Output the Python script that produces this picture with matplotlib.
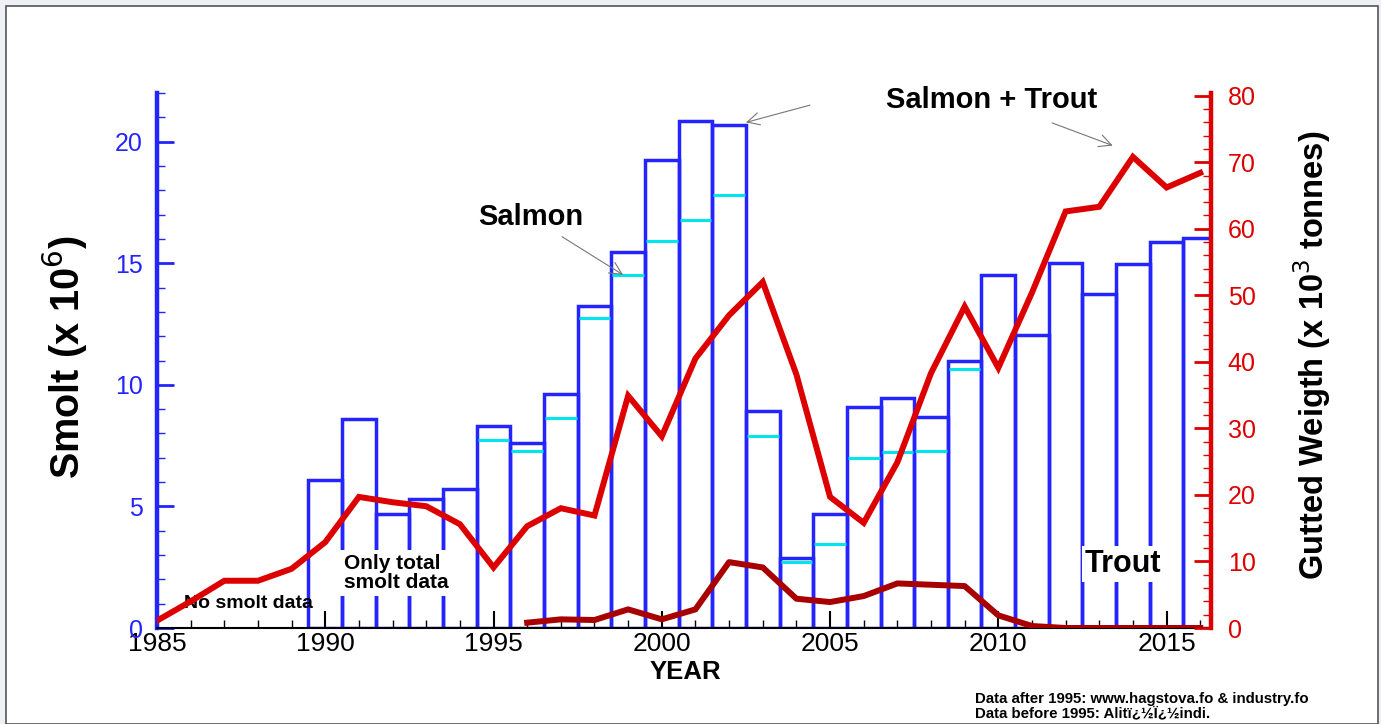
import numpy as np
import matplotlib.pyplot as plt
from matplotlib.patches import Rectangle

plt.rcParams['font.family'] = ['Liberation Sans', 'DejaVu Sans']

# smolt (x 10^6), total bars and salmon-only marks
bar_years = np.arange(1990, 2017)
smolt_total = [6.08, 8.60, 4.67, 5.30, 5.70, 8.32, 7.61, 9.62, 13.25, 15.45,
               19.23, 20.84, 20.69, 8.93, 2.87, 4.67, 9.10, 9.44, 8.69, 11.0,
               14.51, 12.03, 15.02, 13.73, 14.95, 15.86, 16.04]
salmon_years = np.arange(1995, 2010)
smolt_salmon = [7.75, 7.26, 8.63, 12.74, 14.52, 15.93, 16.76, 17.79, 7.91,
                2.70, 3.45, 7.00, 7.25, 7.29, 10.65]

# gutted weight (x 10^3 tonnes)
catch_years = np.arange(1985, 2017)
salmon_trout = [1.1, 4.0, 7.1, 7.1, 8.9, 12.9, 19.7, 18.9, 18.3, 15.6, 9.1,
                15.3, 18.0, 16.9, 34.9, 28.8, 40.5, 47.0, 52.0, 38.1, 19.7,
                15.8, 24.9, 38.3, 48.3, 39.1, 50.4, 62.6, 63.3, 70.8, 66.2, 68.4]
trout_years = np.arange(1996, 2017)
trout = [0.8, 1.3, 1.2, 2.8, 1.3, 2.8, 9.9, 9.1, 4.4, 3.9, 4.8, 6.7, 6.5, 6.3,
         1.9, 0.3, 0, 0, 0, 0, 0]

blue = '#2424ff'
red = '#dd0000'
arrow_style = dict(arrowstyle='->', color='#777777', lw=0.8, mutation_scale=22)

fig = plt.figure(figsize=(13.81, 7.24), dpi=100)
fig.patch.set_facecolor('#eef0f6')
fig.patches.append(Rectangle((6/1381, 0), 1372/1381, 1 - 6/724, transform=fig.transFigure,
                             facecolor='white', edgecolor='#555555', lw=1.2, zorder=-5))

ax = fig.add_axes([157/1381, 96/724, 1054/1381, 535/724])
ax.patch.set_alpha(0)

ax.bar(bar_years, smolt_total, width=1.0, fill=False, edgecolor=blue, linewidth=2.5, zorder=2)
ax.hlines(smolt_salmon, salmon_years - 0.47, salmon_years + 0.47, colors='#00e5ee', lw=2.2, zorder=3)

ax.set_xlim(1985, 2016.32)
ax.set_ylim(0, 22)
for s in ['top', 'right']:
    ax.spines[s].set_visible(False)
ax.spines['left'].set_color(blue)
ax.spines['left'].set_linewidth(3.2)
ax.spines['bottom'].set_linewidth(1.5)

ax.set_xticks(np.arange(1985, 2016, 5))
ax.set_xticks(np.arange(1985, 2017), minor=True)
ax.tick_params(axis='x', which='major', direction='in', length=12, width=1.5, labelsize=19, pad=3)
ax.tick_params(axis='x', which='minor', direction='in', length=6, width=1.0)
ax.set_yticks([0, 5, 10, 15, 20])
ax.set_yticks(np.arange(0, 23), minor=True)
ax.tick_params(axis='y', which='major', direction='in', length=12, width=2, color=blue,
               labelcolor=blue, labelsize=18, pad=10)
ax.tick_params(axis='y', which='minor', direction='in', length=6, width=1, color=blue)

ax.text(1985.8, 1.0, 'No smolt data', fontsize=14, fontweight='bold', va='center', zorder=5)
ax.text(1990.55, 2.25, 'Only total\nsmolt data', fontsize=15, fontweight='bold', va='center',
        linespacing=1.0, zorder=5,
        bbox=dict(facecolor='white', edgecolor='none', pad=3))

ax.annotate('Salmon', xy=(1998.85, smolt_salmon[4]), xytext=(1996.1, 16.9),
            fontsize=21, fontweight='bold', ha='center', va='center',
            arrowprops=dict(shrinkA=4, shrinkB=0, **arrow_style))
ax.annotate('', xy=(2002.5, smolt_total[12] + 0.1), xytext=(2004.4, 21.5),
            arrowprops=dict(shrinkA=0, shrinkB=0, **arrow_style))

ax2 = ax.twinx()
ax2.plot(catch_years, salmon_trout, color=red, lw=4.3, solid_joinstyle='miter', zorder=4)
ax2.plot(trout_years, trout, color='#a80000', lw=4.3, zorder=4)
ax2.set_ylim(0, 80.4)
for s in ['top', 'left', 'bottom']:
    ax2.spines[s].set_visible(False)
ax2.spines['right'].set_color(red)
ax2.spines['right'].set_linewidth(3.2)
ax2.set_yticks(np.arange(0, 81, 10))
ax2.set_yticks(np.arange(0, 81, 2), minor=True)
ax2.tick_params(axis='y', which='major', direction='in', length=12, width=2, color=red,
                labelcolor=red, labelsize=18, pad=12)
ax2.tick_params(axis='y', which='minor', direction='in', length=6, width=1, color=red)

ax2.annotate('Salmon + Trout', xy=(2013.4, 72.5), xytext=(2009.8, 79.3),
             fontsize=21, fontweight='bold', ha='center', va='center',
             arrowprops=dict(shrinkA=12, shrinkB=0, **arrow_style))
ax2.text(2013.7, 9.6, 'Trout', fontsize=22, fontweight='bold', ha='center', va='center',
         bbox=dict(facecolor='white', edgecolor='none', pad=2))

fig.text(65/1381, 1 - 357/724, 'Smolt (x 10$^6$)', rotation=90, fontsize=28.5,
         fontweight='bold', ha='center', va='center')
fig.text(1312/1381, 1 - 355/724, 'Gutted Weigth (x 10$^3$ tonnes)', rotation=90,
         fontsize=23.5, fontweight='bold', ha='center', va='center')
fig.text(685/1381, 1 - 672/724, 'YEAR', fontsize=18.5, fontweight='bold', ha='center', va='center')
fig.text(975/1381, 1 - 706/724,
         'Data after 1995: www.hagstova.fo & industry.fo\nData before 1995: Alitï¿½Ï¿½indi.',
         fontsize=10.8, fontweight='bold', ha='left', va='center', linespacing=1.0)

fig.savefig('out.png', dpi=100, facecolor=fig.get_facecolor())
